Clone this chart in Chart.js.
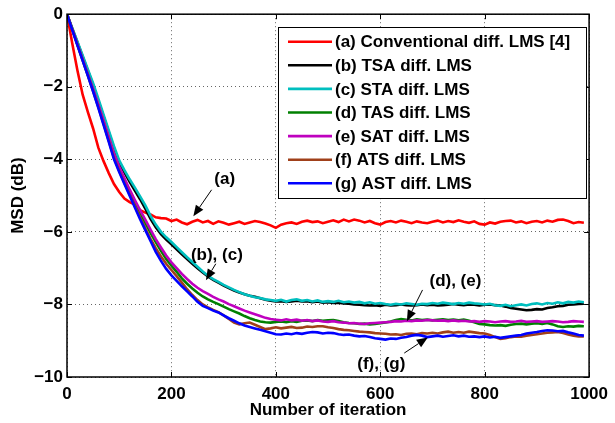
<!DOCTYPE html>
<html>
<head>
<meta charset="utf-8">
<script src="https://cdn.jsdelivr.net/npm/chart.js@4/dist/chart.umd.min.js"></script>
<style>
html,body{margin:0;padding:0;background:#fff;}
#wrap{width:615px;height:423px;}
</style>
</head>
<body>
<div id="wrap"><canvas id="c" width="615" height="423"></canvas></div>
<script>
// ---------- DATA ----------
const iterations = [0,10,20,30,40,50,60,70,80,90,100,110,120,130,140,150,160,170,180,190,200,210,220,230,240,250,260,270,280,290,300,310,320,330,340,350,360,370,380,390,400,410,420,430,440,450,460,470,480,490,500,510,520,530,540,550,560,570,580,590,600,610,620,630,640,650,660,670,680,690,700,710,720,730,740,750,760,770,780,790,800,810,820,830,840,850,860,870,880,890,900,910,920,930,940,950,960,970,980,990];

const seriesLabels = ['(a) Conventional diff. LMS [4]','(b) TSA diff. LMS','(c) STA diff. LMS','(d) TAS diff. LMS','(e) SAT diff. LMS','(f) ATS diff. LMS','(g) AST diff. LMS'];

const msdA = [0,-0.80,-1.55,-2.22,-2.70,-3.15,-3.68,-4.05,-4.38,-4.68,-4.90,-5.08,-5.18,-5.25,-5.40,-5.47,-5.52,-5.60,-5.62,-5.63,-5.70,-5.66,-5.74,-5.79,-5.72,-5.67,-5.74,-5.70,-5.78,-5.71,-5.75,-5.80,-5.76,-5.72,-5.78,-5.74,-5.70,-5.73,-5.77,-5.82,-5.89,-5.80,-5.76,-5.74,-5.78,-5.72,-5.69,-5.73,-5.71,-5.76,-5.72,-5.68,-5.73,-5.66,-5.71,-5.66,-5.69,-5.74,-5.70,-5.76,-5.80,-5.73,-5.70,-5.74,-5.69,-5.72,-5.76,-5.71,-5.74,-5.76,-5.72,-5.69,-5.74,-5.70,-5.73,-5.68,-5.72,-5.75,-5.71,-5.78,-5.80,-5.74,-5.77,-5.72,-5.70,-5.69,-5.74,-5.71,-5.76,-5.72,-5.70,-5.74,-5.69,-5.72,-5.67,-5.66,-5.70,-5.76,-5.73,-5.75];

const msdB = [0,-0.39,-0.78,-1.17,-1.56,-1.95,-2.38,-2.82,-3.26,-3.70,-4.08,-4.36,-4.62,-4.86,-5.10,-5.36,-5.64,-5.87,-6.06,-6.21,-6.34,-6.48,-6.62,-6.75,-6.88,-7.00,-7.12,-7.23,-7.32,-7.40,-7.48,-7.55,-7.62,-7.67,-7.72,-7.76,-7.79,-7.83,-7.87,-7.90,-7.92,-7.91,-7.93,-7.92,-7.90,-7.92,-7.91,-7.94,-7.92,-7.95,-7.94,-7.96,-7.95,-7.97,-7.98,-8.00,-8.01,-8.02,-8.03,-8.02,-8.04,-8.01,-8.03,-8.02,-8.00,-8.02,-8.03,-8.02,-8.00,-8.02,-8.01,-8.03,-8.02,-8.01,-7.99,-8.01,-8.02,-8.00,-8.01,-8.03,-8.01,-8.00,-8.02,-8.03,-8.06,-8.10,-8.12,-8.14,-8.16,-8.15,-8.13,-8.14,-8.10,-8.08,-8.05,-8.04,-8.01,-8.00,-7.99,-7.98];

const msdC = [0,-0.38,-0.76,-1.14,-1.52,-1.90,-2.33,-2.77,-3.20,-3.64,-4.03,-4.30,-4.55,-4.78,-5.02,-5.27,-5.56,-5.80,-6.00,-6.15,-6.28,-6.42,-6.56,-6.70,-6.83,-6.96,-7.09,-7.21,-7.30,-7.38,-7.46,-7.53,-7.60,-7.66,-7.72,-7.76,-7.80,-7.82,-7.86,-7.88,-7.90,-7.87,-7.92,-7.88,-7.86,-7.90,-7.88,-7.92,-7.89,-7.93,-7.91,-7.93,-7.90,-7.94,-7.92,-7.95,-7.93,-7.97,-7.94,-7.98,-7.96,-7.99,-8.01,-7.98,-8.00,-7.97,-7.99,-8.01,-7.98,-7.99,-7.96,-7.98,-7.95,-7.97,-7.99,-7.96,-7.98,-7.95,-7.97,-7.98,-8.00,-7.98,-8.02,-8.04,-8.01,-8.05,-8.02,-8.00,-8.03,-7.99,-7.97,-8.00,-7.96,-7.98,-7.94,-7.97,-7.93,-7.95,-7.92,-7.94];

const msdD = [0,-0.42,-0.84,-1.26,-1.67,-2.09,-2.52,-2.97,-3.43,-3.90,-4.26,-4.58,-4.90,-5.20,-5.48,-5.75,-6.03,-6.28,-6.52,-6.75,-6.93,-7.10,-7.28,-7.43,-7.56,-7.68,-7.78,-7.86,-7.93,-7.99,-8.06,-8.13,-8.19,-8.25,-8.32,-8.38,-8.43,-8.47,-8.49,-8.50,-8.48,-8.47,-8.49,-8.46,-8.48,-8.45,-8.44,-8.46,-8.43,-8.45,-8.44,-8.43,-8.46,-8.49,-8.51,-8.52,-8.54,-8.53,-8.55,-8.54,-8.52,-8.50,-8.47,-8.43,-8.40,-8.42,-8.44,-8.41,-8.43,-8.42,-8.44,-8.42,-8.41,-8.43,-8.42,-8.44,-8.42,-8.45,-8.49,-8.54,-8.55,-8.57,-8.58,-8.57,-8.59,-8.56,-8.54,-8.53,-8.55,-8.53,-8.52,-8.54,-8.51,-8.55,-8.60,-8.62,-8.60,-8.61,-8.59,-8.60];

const msdE = [0,-0.41,-0.83,-1.24,-1.65,-2.06,-2.49,-2.93,-3.38,-3.84,-4.20,-4.52,-4.83,-5.12,-5.40,-5.66,-5.94,-6.20,-6.43,-6.65,-6.84,-7.00,-7.16,-7.30,-7.43,-7.54,-7.63,-7.71,-7.79,-7.86,-7.92,-7.99,-8.05,-8.11,-8.17,-8.22,-8.27,-8.32,-8.37,-8.40,-8.42,-8.44,-8.41,-8.44,-8.42,-8.45,-8.43,-8.46,-8.44,-8.47,-8.48,-8.46,-8.49,-8.50,-8.52,-8.51,-8.53,-8.54,-8.52,-8.51,-8.50,-8.49,-8.48,-8.46,-8.47,-8.45,-8.46,-8.44,-8.45,-8.43,-8.44,-8.45,-8.44,-8.46,-8.44,-8.46,-8.45,-8.47,-8.46,-8.48,-8.46,-8.47,-8.49,-8.47,-8.46,-8.48,-8.47,-8.45,-8.48,-8.47,-8.46,-8.48,-8.47,-8.46,-8.47,-8.49,-8.48,-8.46,-8.47,-8.48];

const msdF = [0,-0.42,-0.85,-1.27,-1.69,-2.12,-2.56,-3.02,-3.49,-3.96,-4.32,-4.65,-4.97,-5.29,-5.60,-5.90,-6.19,-6.45,-6.68,-6.88,-7.05,-7.22,-7.40,-7.58,-7.74,-7.88,-8.00,-8.08,-8.15,-8.21,-8.30,-8.40,-8.50,-8.55,-8.52,-8.50,-8.56,-8.62,-8.68,-8.66,-8.63,-8.66,-8.64,-8.62,-8.65,-8.64,-8.61,-8.62,-8.60,-8.60,-8.63,-8.65,-8.68,-8.70,-8.71,-8.73,-8.75,-8.76,-8.77,-8.79,-8.80,-8.81,-8.83,-8.82,-8.84,-8.81,-8.80,-8.82,-8.79,-8.80,-8.78,-8.80,-8.77,-8.75,-8.78,-8.76,-8.78,-8.75,-8.77,-8.79,-8.80,-8.84,-8.90,-8.95,-8.93,-8.90,-8.88,-8.89,-8.86,-8.84,-8.82,-8.80,-8.78,-8.77,-8.76,-8.79,-8.83,-8.86,-8.88,-8.88];

const msdG = [0,-0.43,-0.86,-1.28,-1.70,-2.13,-2.58,-3.05,-3.52,-4.00,-4.35,-4.68,-5.00,-5.33,-5.65,-5.95,-6.25,-6.55,-6.80,-7.02,-7.20,-7.35,-7.50,-7.64,-7.78,-7.93,-8.04,-8.10,-8.17,-8.22,-8.30,-8.38,-8.45,-8.52,-8.58,-8.62,-8.66,-8.70,-8.74,-8.78,-8.82,-8.83,-8.80,-8.82,-8.79,-8.81,-8.78,-8.76,-8.77,-8.80,-8.78,-8.79,-8.82,-8.84,-8.83,-8.86,-8.88,-8.87,-8.90,-8.93,-8.95,-8.97,-8.94,-8.95,-8.92,-8.90,-8.86,-8.84,-8.86,-8.90,-8.88,-8.86,-8.89,-8.87,-8.85,-8.88,-8.86,-8.89,-8.88,-8.90,-8.88,-8.91,-8.89,-8.92,-8.90,-8.88,-8.86,-8.84,-8.80,-8.78,-8.76,-8.73,-8.71,-8.72,-8.74,-8.73,-8.77,-8.80,-8.84,-8.86];

const xTickValues = [0,200,400,600,800,1000];
const xTickLabels = ['0','200','400','600','800','1000'];
const yTickValues = [-10,-8,-6,-4,-2,0];
const yTickLabels = ['\u221210','\u22128','\u22126','\u22124','\u22122','0'];

const annotations = [
  {text:'(a)',      tx:302, ty:-4.56, ax:277, ay:-4.84, hx:242, hy:-5.57},
  {text:'(b), (c)', tx:287, ty:-6.64, ax:285, ay:-6.88, hx:266, hy:-7.33},
  {text:'(d), (e)', tx:744, ty:-7.35, ax:681, ay:-7.60, hx:651, hy:-8.46},
  {text:'(f), (g)', tx:602, ty:-9.64, ax:646, ay:-9.34, hx:691, hy:-8.91}
];
// ---------- STYLE ----------
const colors = ['#ff0000','#000000','#00bfbf','#008000','#bf00bf','#a0401a','#0000ff'];
const FONT = 'Liberation Sans, Arial, Helvetica, sans-serif';
const allSeries = [msdA,msdB,msdC,msdD,msdE,msdF,msdG];

const datasets = allSeries.map((s,i)=>({
  label: seriesLabels[i],
  data: s.map((v,k)=>({x: iterations[k], y: v})),
  borderColor: colors[i],
  backgroundColor: colors[i],
  borderWidth: 2.6,
  pointRadius: 0,
  tension: 0,
  fill: false,
  order: 10 - i
}));

function arrow(ctx, x1, y1, x2, y2){
  const ang = Math.atan2(y2-y1, x2-x1);
  const L = 11, W = 4.5;
  const bx = x2 - L*Math.cos(ang), by = y2 - L*Math.sin(ang);
  ctx.beginPath(); ctx.moveTo(x1,y1); ctx.lineTo(bx,by); ctx.stroke();
  ctx.beginPath();
  ctx.moveTo(x2,y2);
  ctx.lineTo(bx + W*Math.sin(ang), by - W*Math.cos(ang));
  ctx.lineTo(bx - W*Math.sin(ang), by + W*Math.cos(ang));
  ctx.closePath(); ctx.fill();
}

const matlabPlugin = {
  id: 'matlab',
  afterDatasetsDraw(chart){
    const {ctx, chartArea:a, scales:{x,y}} = chart;
    ctx.save();
    // annotations
    ctx.fillStyle = '#000'; ctx.strokeStyle = '#000'; ctx.lineWidth = 1;
    ctx.font = 'bold 17px ' + FONT;
    ctx.textAlign = 'center'; ctx.textBaseline = 'middle';
    annotations.forEach(an=>{
      ctx.fillText(an.text, x.getPixelForValue(an.tx), y.getPixelForValue(an.ty));
      arrow(ctx, x.getPixelForValue(an.ax), y.getPixelForValue(an.ay), x.getPixelForValue(an.hx), y.getPixelForValue(an.hy));
    });
    // box
    ctx.lineWidth = 1.5;
    ctx.strokeRect(a.left, a.top, a.right-a.left, a.bottom-a.top);
    // inner ticks
    ctx.lineWidth = 1;
    const tl = 5;
    xTickValues.forEach(v=>{
      const px = Math.round(x.getPixelForValue(v))+0.5;
      ctx.beginPath(); ctx.moveTo(px,a.bottom); ctx.lineTo(px,a.bottom-tl);
      ctx.moveTo(px,a.top); ctx.lineTo(px,a.top+tl); ctx.stroke();
    });
    yTickValues.forEach(v=>{
      const py = Math.round(y.getPixelForValue(v))+0.5;
      ctx.beginPath(); ctx.moveTo(a.left,py); ctx.lineTo(a.left+tl,py);
      ctx.moveTo(a.right,py); ctx.lineTo(a.right-tl,py); ctx.stroke();
    });
    // legend
    const lx = 278.5, ly = 27.5, lw = 308, lh = 171;
    ctx.fillStyle = '#fff';
    ctx.fillRect(lx, ly, lw, lh);
    ctx.strokeStyle = '#000'; ctx.lineWidth = 1;
    ctx.strokeRect(lx, ly, lw, lh);
    ctx.textAlign = 'left'; ctx.textBaseline = 'middle';
    ctx.font = 'bold 17px ' + FONT;
    chart.data.datasets.forEach((ds,i)=>{
      const cy = 41.7 + i*23.6;
      ctx.strokeStyle = ds.borderColor; ctx.lineWidth = 2.6;
      ctx.beginPath(); ctx.moveTo(288, cy); ctx.lineTo(332, cy); ctx.stroke();
      ctx.fillStyle = '#000';
      ctx.fillText(ds.label, 335, cy+1);
    });
    ctx.restore();
  }
};

new Chart(document.getElementById('c'), {
  type: 'line',
  data: { datasets },
  options: {
    responsive: false,
    devicePixelRatio: 1,
    animation: false,
    layout: { padding: { top: 11.5, right: 20, left: 0, bottom: 0 } },
    plugins: { legend: { display: false }, tooltip: { enabled: false }, title: { display: false } },
    scales: {
      x: {
        type: 'linear', min: 0, max: 1000,
        afterFit: s => { s.height = 46; },
        afterBuildTicks: s => { s.ticks = xTickValues.map(v=>({value:v})); },
        border: { display: false, dash: [1,3] },
        grid: { drawTicks: false, color: 'rgba(0,0,0,0.6)', lineWidth: 1 },
        ticks: { padding: 7, color: '#000', font: { family: FONT, size: 17, weight: 'bold' }, maxRotation: 0,
                 callback: (v, i) => xTickLabels[i] },
        title: { display: true, text: 'Number of iteration', color: '#000', padding: { top: 2, bottom: 2 },
                 font: { family: FONT, size: 17, weight: 'bold' } }
      },
      y: {
        type: 'linear', min: -10, max: 0,
        afterFit: s => { s.width = 67; },
        afterBuildTicks: s => { s.ticks = yTickValues.map(v=>({value:v})); },
        border: { display: false, dash: [1,3] },
        grid: { drawTicks: false, color: 'rgba(0,0,0,0.6)', lineWidth: 1 },
        ticks: { padding: 4, color: '#000', font: { family: FONT, size: 17, weight: 'bold' },
                 callback: (v, i) => yTickLabels[i] },
        title: { display: true, text: 'MSD (dB)', color: '#000', padding: { top: 8, bottom: 8 },
                 font: { family: FONT, size: 17, weight: 'bold' } }
      }
    }
  },
  plugins: [matlabPlugin]
});
</script>
</body>
</html>
